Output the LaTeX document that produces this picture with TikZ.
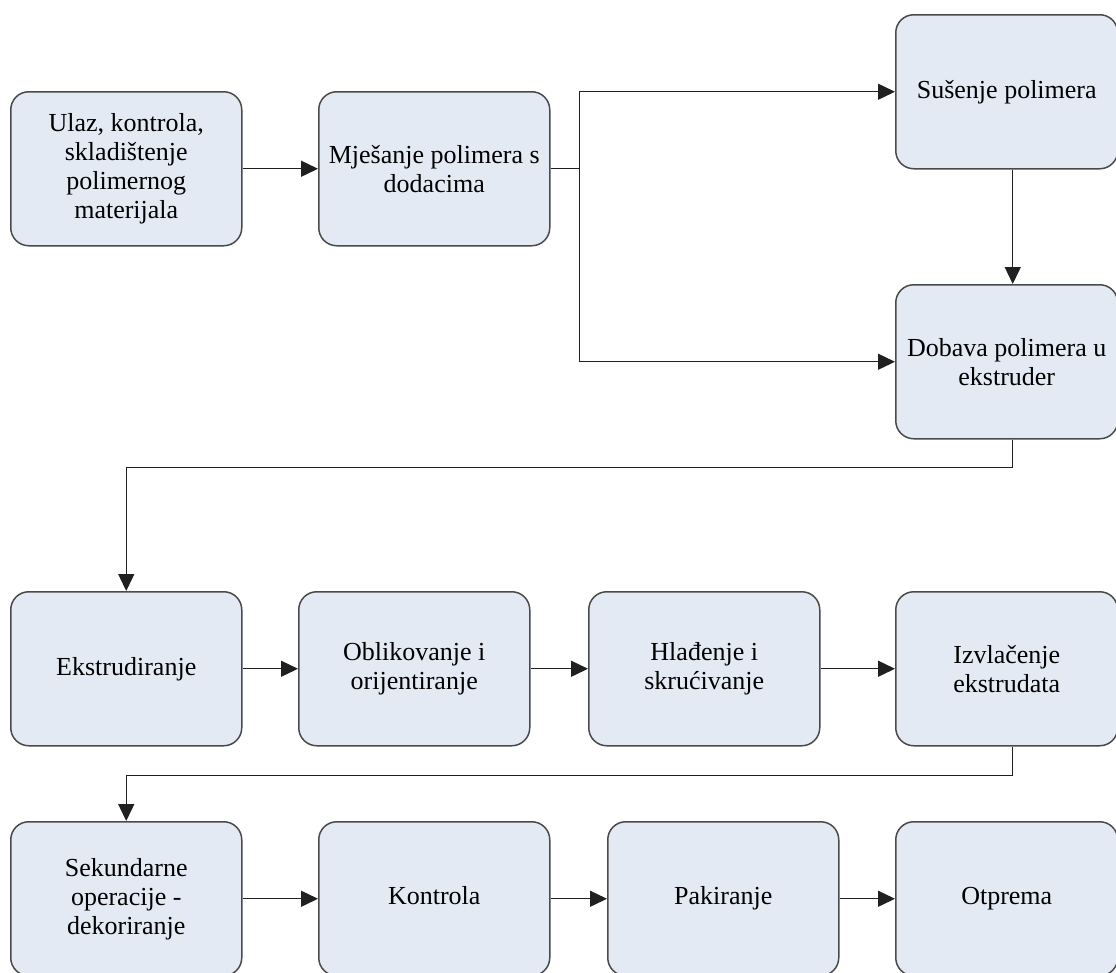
\documentclass[tikz,border=0pt]{standalone}
\usepackage{fontspec}
\setmainfont{Liberation Serif}
\usetikzlibrary{arrows.meta}
\definecolor{boxfill}{HTML}{E4EAF4}
\definecolor{boxborder}{HTML}{4A4A4A}
\definecolor{linecol}{HTML}{202020}
\begin{document}
\begin{tikzpicture}[x=1pt,y=-1pt,
  procbox/.style={draw=boxborder, line width=1.5pt, fill=boxfill, rounded corners=18pt,
    minimum width=231pt, minimum height=154pt, align=center, anchor=north west,
    inner sep=3pt, font=\fontsize{26}{29}\selectfont},
  widebox/.style={procbox, minimum width=222pt},
  arr/.style={draw=linecol, line width=1.4pt, -{Triangle[length=17pt,width=16pt]}},
  ln/.style={draw=linecol, line width=1.4pt}]
\useasboundingbox (0,0) rectangle (1116,972);
% top rows
\node[procbox] (b1) at (10,91) {Ulaz, kontrola,\\ skladištenje\\ polimernog\\ materijala};
\node[procbox] (b2) at (318,91) {Mješanje polimera s\\ dodacima};
\node[widebox] (b3) at (895,14) {Sušenje polimera};
\node[widebox] (b4) at (895,284) {Dobava polimera u\\ ekstruder};
% third row
\node[procbox] (b5) at (10,591) {Ekstrudiranje};
\node[procbox] (b6) at (298,591) {Oblikovanje i\\ orijentiranje};
\node[procbox] (b7) at (588,591) {Hlađenje i\\ skrućivanje};
\node[widebox] (b8) at (895,591) {Izvlačenje\\ ekstrudata};
% fourth row
\node[procbox] (b9) at (10,821) {Sekundarne\\ operacije -\\ dekoriranje};
\node[procbox] (b10) at (318,821) {Kontrola\strut};
\node[procbox] (b11) at (607,821) {Pakiranje\strut};
\node[widebox] (b12) at (895,821) {Otprema\strut};
% connectors
\coordinate (j1) at ([xshift=29pt]b2.east);
\draw[arr] (b1.east) -- (b2.west);
\draw[ln] (b2.east) -- (j1);
\draw[arr] (j1) |- (b3.west);
\draw[arr] (j1) |- (b4.west);
\draw[arr] ([xshift=6pt]b3.south) -- ([xshift=6pt]b4.north);
\draw[arr] ([xshift=6pt]b4.south) -- ++(0,28) -| (b5.north);
\draw[arr] (b5.east) -- (b6.west);
\draw[arr] (b6.east) -- (b7.west);
\draw[arr] (b7.east) -- (b8.west);
\draw[arr] ([xshift=6pt]b8.south) -- ++(0,29) -| (b9.north);
\draw[arr] (b9.east) -- (b10.west);
\draw[arr] (b10.east) -- (b11.west);
\draw[arr] (b11.east) -- (b12.west);
\end{tikzpicture}
\end{document}
